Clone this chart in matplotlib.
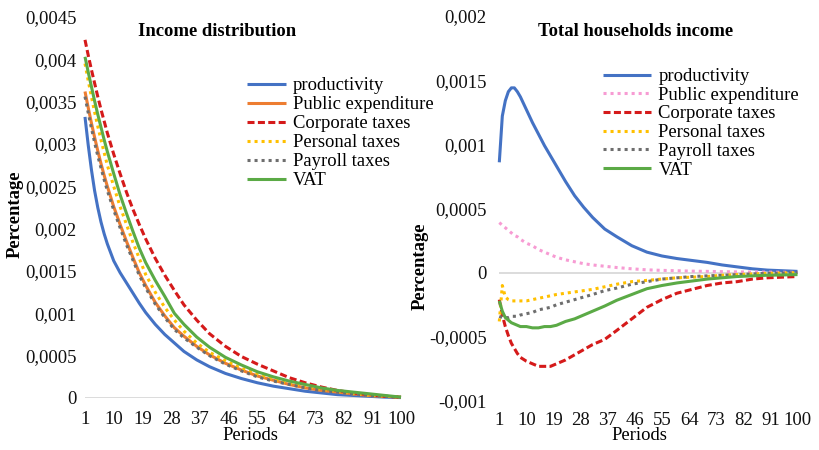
import matplotlib
matplotlib.use('Agg')
import matplotlib.pyplot as plt

# ---------------- data ----------------
periods = [1, 2, 3, 4, 5, 6, 7, 8, 10, 12, 14, 16, 18, 20, 23, 26, 29, 32, 36, 40,
           45, 50, 55, 60, 65, 70, 75, 80, 85, 90, 95, 100]
x_ticks = [1, 10, 19, 28, 37, 46, 55, 64, 73, 82, 91, 100]

series_names = ["productivity", "Public expenditure", "Corporate taxes",
                "Personal taxes", "Payroll taxes", "VAT"]

# Left panel: Income distribution
inc_productivity = [0.00332, 0.00299, 0.00270, 0.00245, 0.00225, 0.00208, 0.00194, 0.00182,
                    0.00162, 0.00148, 0.00136, 0.00124, 0.00112, 0.00101,
                    0.00087, 0.00075, 0.00065, 0.00055, 0.00045, 0.00037,
                    0.00029, 0.00023, 0.00018, 0.00014, 0.00011, 0.00008, 0.00006, 0.00004,
                    0.00003, 0.00002, 0.00001, 0.000005]
inc_public = [0.00362, 0.00343, 0.00325, 0.00308, 0.00292, 0.00277, 0.00263, 0.00250,
              0.00226, 0.00205, 0.00185, 0.00166, 0.00148, 0.00133,
              0.00113, 0.00097, 0.00083, 0.00073, 0.00061, 0.00051,
              0.00041, 0.00033, 0.00026, 0.00021, 0.00016, 0.00012, 0.00009, 0.00007,
              0.00005, 0.00003, 0.00002, 0.00001]
inc_corporate = [0.00423, 0.00405, 0.00388, 0.00372, 0.00356, 0.00341, 0.00327, 0.00313,
                 0.00288, 0.00265, 0.00243, 0.00223, 0.00205, 0.00188,
                 0.00165, 0.00145, 0.00127, 0.00110, 0.00092, 0.00076,
                 0.00061, 0.00049, 0.00040, 0.00032, 0.00024, 0.00018, 0.00013, 0.00009,
                 0.00006, 0.00004, 0.00002, 0.00001]
inc_personal = [0.00395, 0.00375, 0.00356, 0.00338, 0.00321, 0.00305, 0.00290, 0.00275,
                0.00250, 0.00226, 0.00205, 0.00184, 0.00165, 0.00146,
                0.00125, 0.00107, 0.00092, 0.00079, 0.00065, 0.00054,
                0.00044, 0.00035, 0.00028, 0.00022, 0.00018, 0.00014, 0.00010, 0.00008,
                0.00005, 0.00003, 0.00002, 0.00001]
inc_payroll = [0.00356, 0.00337, 0.00319, 0.00302, 0.00286, 0.00272, 0.00258, 0.00245,
               0.00222, 0.00201, 0.00181, 0.00163, 0.00145, 0.00130,
               0.00111, 0.00095, 0.00081, 0.00071, 0.00060, 0.00050,
               0.00040, 0.00032, 0.00025, 0.00020, 0.00016, 0.00012, 0.00009, 0.00007,
               0.00005, 0.00003, 0.00002, 0.00001]
inc_vat = [0.00403, 0.00385, 0.00368, 0.00351, 0.00335, 0.00320, 0.00305, 0.00291,
           0.00265, 0.00240, 0.00218, 0.00197, 0.00177, 0.00160,
           0.00139, 0.00120, 0.00100, 0.00087, 0.00072, 0.00060,
           0.00048, 0.00039, 0.00031, 0.00025, 0.00020, 0.00016, 0.00012, 0.00009,
           0.00007, 0.00005, 0.00003, 0.00001]

# Right panel: Total households income
hh_productivity = [0.00086, 0.00122, 0.00134, 0.00141, 0.00144, 0.00144, 0.00141, 0.00137,
                   0.00127, 0.00117, 0.00108, 0.00099, 0.00091, 0.00083,
                   0.00071, 0.00060, 0.00051, 0.00043, 0.00034, 0.00028,
                   0.00021, 0.00016, 0.00013, 0.00011, 0.000095, 0.00008, 0.00006, 0.000045,
                   0.00003, 0.00002, 0.000015, 0.00001]
hh_public = [0.00039, 0.00037, 0.00035, 0.00033, 0.00031, 0.00029, 0.00028, 0.00026,
             0.00023, 0.00021, 0.00018, 0.00016, 0.00014, 0.00012,
             0.00010, 0.000085, 0.00007, 0.00006, 0.00005, 0.00004,
             0.00003, 0.000022, 0.000018, 0.000015, 0.000012, 0.00001, 0.000008, 0.000006,
             0.000005, 0.000004, 0.000003, 0.000002]
hh_corporate = [-0.00021, -0.00033, -0.00042, -0.00049, -0.00055, -0.00059, -0.00063, -0.00066,
                -0.00069, -0.00071, -0.00073, -0.00073, -0.00073, -0.00071,
                -0.00068, -0.00064, -0.00060, -0.00056, -0.00052, -0.00045,
                -0.00036, -0.00027, -0.00021, -0.00016, -0.00013, -0.00010, -0.00008, -0.00007,
                -0.00005, -0.00004, -0.000035, -0.00003]
hh_personal = [-0.00038, -0.00010, -0.00019, -0.00021, -0.00022, -0.00022, -0.00022, -0.00022,
               -0.00022, -0.00021, -0.00020, -0.00019, -0.00018, -0.00017,
               -0.00016, -0.00015, -0.00014, -0.00013, -0.00011, -0.00009,
               -0.00007, -0.00006, -0.00005, -0.00004, -0.000035, -0.00003, -0.00002, -0.000015,
               -0.00001, -0.000005, -0.000003, 0.0]
hh_payroll = [-0.00034, -0.00035, -0.00035, -0.00035, -0.00034, -0.00034, -0.00034, -0.00033,
              -0.00032, -0.00031, -0.00029, -0.00028, -0.00027, -0.00025,
              -0.00023, -0.00021, -0.00019, -0.00017, -0.00014, -0.00012,
              -0.00009, -0.00007, -0.00005, -0.00004, -0.00003, -0.000025, -0.00002, -0.000015,
              -0.00001, -0.000005, -0.000003, 0.0]
hh_vat = [-0.00022, -0.00030, -0.00035, -0.00037, -0.00039, -0.00040, -0.00041, -0.00042,
          -0.00042, -0.00043, -0.00043, -0.00042, -0.00042, -0.00041,
          -0.00038, -0.00036, -0.00033, -0.00030, -0.00026, -0.000215,
          -0.00017, -0.000125, -0.0001, -0.00008, -0.000065, -0.00005, -0.00004, -0.00003,
          -0.000025, -0.00002, -0.000018, -0.000015]

left_yticks = [0, 0.0005, 0.001, 0.0015, 0.002, 0.0025, 0.003, 0.0035, 0.004, 0.0045]
left_ylabels = ["0", "0,0005", "0,001", "0,0015", "0,002", "0,0025", "0,003", "0,0035", "0,004", "0,0045"]
right_yticks = [-0.001, -0.0005, 0, 0.0005, 0.001, 0.0015, 0.002]
right_ylabels = ["-0,001", "-0,0005", "0", "0,0005", "0,001", "0,0015", "0,002"]

# ---------------- style ----------------
plt.rcParams['font.family'] = ['Liberation Serif', 'DejaVu Serif']
BLUE = '#4472C4'
ORANGE = '#ED7D31'
RED = '#D51A1A'
YELLOW = '#FFC000'
GRAY = '#6E6E6E'
GREEN = '#5BAA46'
PINK = '#F79BD3'
LW = 2.2
DASH = (0, (2.3, 1.1))
DOT = (0, (1.0, 1.3))

W, H = 819, 450
fig = plt.figure(figsize=(W / 100, H / 100), dpi=100)


def px_axes(x0, x1, ytop, ybot):
    return fig.add_axes([x0 / W, 1 - ybot / H, (x1 - x0) / W, (ybot - ytop) / H])


ax1 = px_axes(85, 401, 17, 398)
ax2 = px_axes(499.3, 797.5, 16, 401)

left_series = [
    (inc_productivity, BLUE, '-'),
    (inc_public, ORANGE, '-'),
    (inc_corporate, RED, DASH),
    (inc_personal, YELLOW, DOT),
    (inc_payroll, GRAY, DOT),
    (inc_vat, GREEN, '-'),
]
right_series = [
    (hh_productivity, BLUE, '-'),
    (hh_public, PINK, DOT),
    (hh_corporate, RED, DASH),
    (hh_personal, YELLOW, DOT),
    (hh_payroll, GRAY, DOT),
    (hh_vat, GREEN, '-'),
]

for ax, series in ((ax1, left_series), (ax2, right_series)):
    ax.axhline(0, color='#D9D9D9', lw=1.3, zorder=1)
    for (vals, col, ls), name in zip(series, series_names):
        ax.plot(periods, vals, color=col, linestyle=ls, lw=LW, label=name,
                solid_capstyle='butt', dash_capstyle='butt', clip_on=False, zorder=3)
    ax.set_xlim(1, 100)
    ax.set_xticks(x_ticks)
    ax.set_xticklabels([str(t) for t in x_ticks])
    for s in ax.spines.values():
        s.set_visible(False)
    ax.tick_params(length=0, labelsize=13.5, colors='#111111')

ax1.set_ylim(0, 0.0045)
ax1.set_yticks(left_yticks)
ax1.set_yticklabels(left_ylabels)
ax1.tick_params(axis='y', pad=6)
ax1.tick_params(axis='x', pad=9)

ax2.set_ylim(-0.001, 0.002)
ax2.set_yticks(right_yticks)
ax2.set_yticklabels(right_ylabels)
ax2.tick_params(axis='y', pad=9)
ax2.tick_params(axis='x', pad=8)

# titles and labels
fs = 13.4
fig.text(217 / W, 1 - 31.5 / H, "Income distribution", ha='center', va='center',
         fontsize=fs, fontweight='bold')
fig.text(636 / W, 1 - 31.5 / H, "Total households income", ha='center', va='center',
         fontsize=fs, fontweight='bold')
fig.text(15 / W, 1 - 214 / H, "Percentage", ha='center', va='center', rotation=90,
         fontsize=fs, fontweight='bold')
fig.text(420 / W, 1 - 266 / H, "Percentage", ha='center', va='center', rotation=90,
         fontsize=fs, fontweight='bold')
fig.text(250 / W, 1 - 436 / H, "Periods", ha='center', va='center', fontsize=fs)
fig.text(639 / W, 1 - 436 / H, "Periods", ha='center', va='center', fontsize=fs)

leg1 = ax1.legend(loc='upper left', bbox_to_anchor=(247 / W, 1 - 77 / H),
                  bbox_transform=fig.transFigure, frameon=False, fontsize=fs,
                  borderpad=0, borderaxespad=0, labelspacing=0.11,
                  handlelength=2.1, handletextpad=0.35)
leg2 = ax2.legend(loc='upper left', bbox_to_anchor=(603 / W, 1 - 68 / H),
                  bbox_transform=fig.transFigure, frameon=False, fontsize=fs,
                  borderpad=0, borderaxespad=0, labelspacing=0.09,
                  handlelength=2.6, handletextpad=0.38)

fig.savefig('out.png', dpi=100)
